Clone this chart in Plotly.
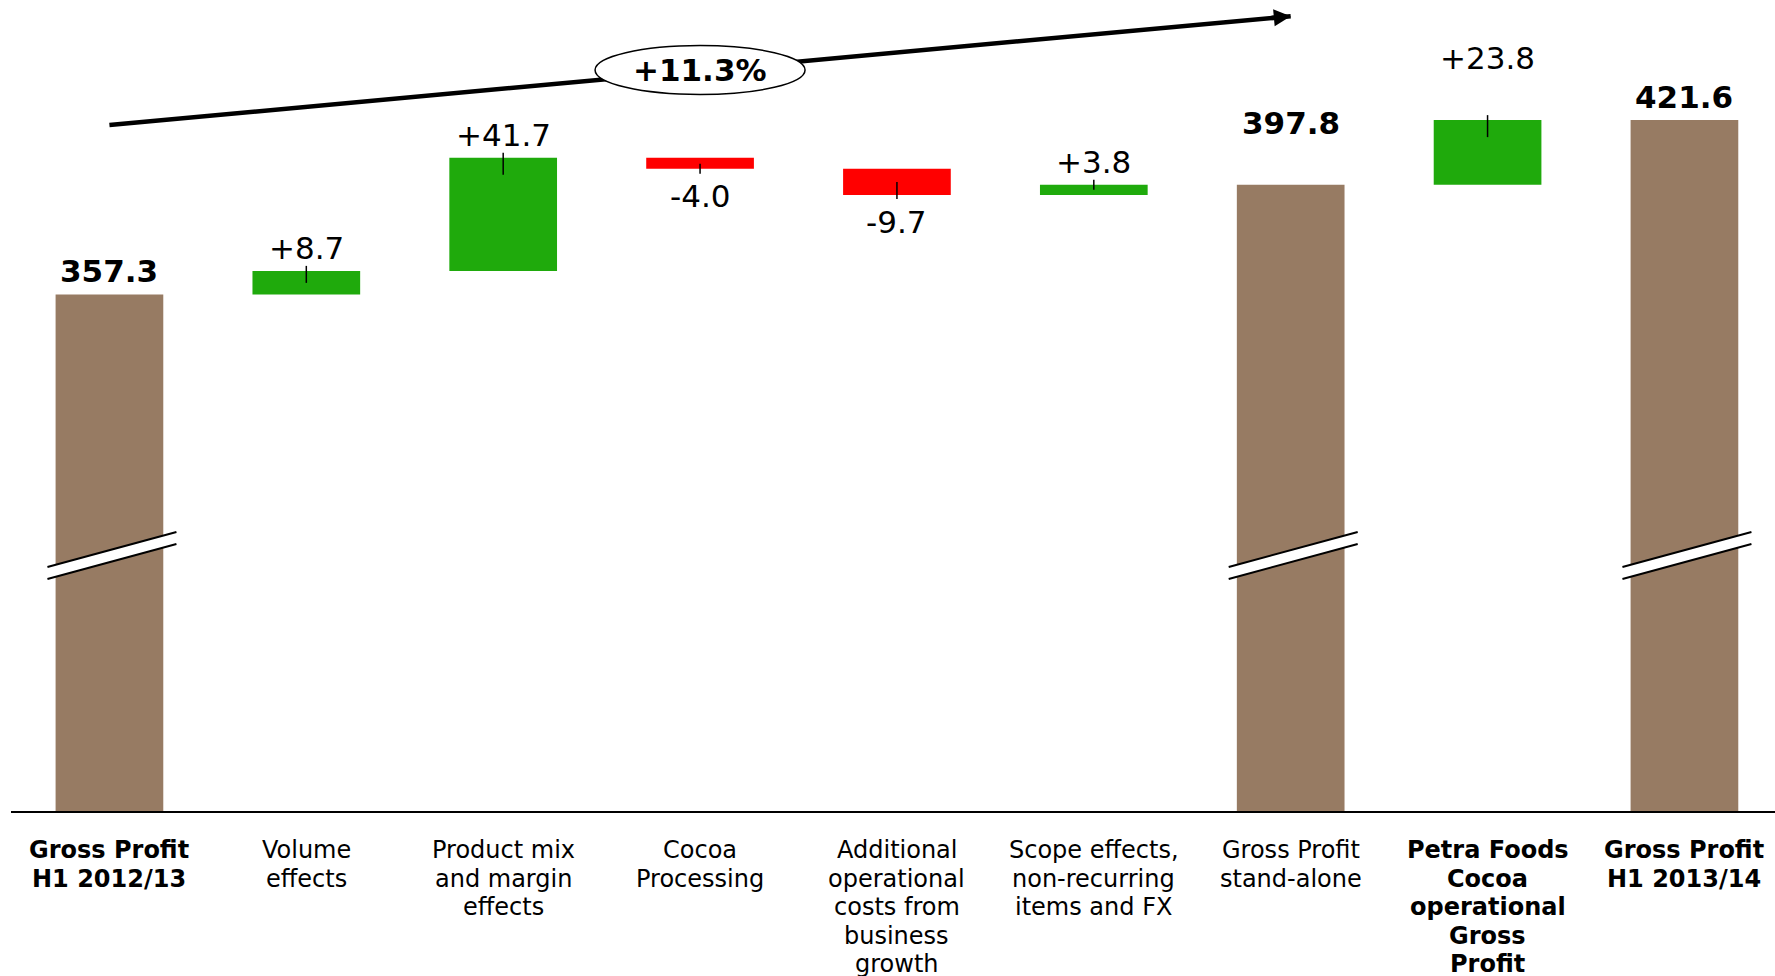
import plotly.graph_objects as go

# ---- data -------------------------------------------------------------
categories = [
    "Gross Profit<br>H1 2012/13",
    "Volume<br>effects",
    "Product mix<br>and margin<br>effects",
    "Cocoa<br>Processing",
    "Additional<br>operational<br>costs from<br>business<br>growth",
    "Scope effects,<br>non-recurring<br>items and FX",
    "Gross Profit<br>stand-alone",
    "Petra Foods<br>Cocoa<br>operational<br>Gross<br>Profit",
    "Gross Profit<br>H1 2013/14",
]
bold_categories = [True, False, False, False, False, False, False, True, True]
measures = ["absolute", "relative", "relative", "relative", "relative",
            "relative", "total", "relative", "total"]
values = [357.3, 8.7, 41.7, -4.0, -9.7, 3.8, 397.8, 23.8, 421.6]
growth_label = "+11.3%"

# ---- style ------------------------------------------------------------
FONT = "DejaVu Sans"
BROWN = "#977B63"
GREEN = "#1FAA0C"
RED = "#FF0000"
Y_RANGE = [166.8, 465.9]
X_RANGE = [-0.5, 8.46]
# extra lift (px) for a few value labels
label_lift = [0, 0, 0, 0, 0, 0, 39, 39, 0]
# small marker ticks at the end of change bars: (up px, down px)
tick_span = [None, (5, 12), (5, 17), (5, 5), (13, 4), (5, 5), None, (5, 17), None]
broken_bars = [0, 6, 8]
LINE_GAP = 28.5

# running totals -> start / end of each bar
starts, ends = [], []
running = 0.0
for m, v in zip(measures, values):
    if m == "absolute":
        s, running = 0.0, v
    elif m == "relative":
        s, running = running, running + v
    else:
        s = 0.0
    starts.append(s)
    ends.append(running)

xs = list(range(len(categories)))

fig = go.Figure(go.Waterfall(
    x=xs,
    y=values,
    measure=measures,
    width=0.547,
    increasing=dict(marker=dict(color=GREEN, line=dict(width=0))),
    decreasing=dict(marker=dict(color=RED, line=dict(width=0))),
    totals=dict(marker=dict(color=BROWN, line=dict(width=0))),
    connector=dict(visible=False),
    hoverinfo="skip",
))

shapes = []
annotations = []

# value labels
for i, (m, v, e) in enumerate(zip(measures, values, ends)):
    if m == "relative":
        txt = f"{v:+.1f}"
    else:
        txt = f"<b>{e:.1f}</b>"
    if m == "relative" and v < 0:
        annotations.append(dict(x=i, y=e, xref="x", yref="y", text=txt,
                                showarrow=False, yanchor="top", yshift=-7,
                                font=dict(family=FONT, size=31, color="black")))
    else:
        annotations.append(dict(x=i, y=e, xref="x", yref="y", text=txt,
                                showarrow=False, yanchor="bottom",
                                yshift=3 + label_lift[i],
                                font=dict(family=FONT, size=31, color="black")))

# tick marks on the change bars
for i, span in enumerate(tick_span):
    if span is None:
        continue
    up, down = span
    shapes.append(dict(type="line", xref="x", yref="y", x0=i, x1=i,
                       ysizemode="pixel", yanchor=ends[i], y0=up, y1=-down,
                       line=dict(color="black", width=1.5), layer="above"))

# axis-break marks on the totals
for i in broken_bars:
    common = dict(xref="x", yref="paper", xsizemode="pixel", xanchor=i,
                  ysizemode="pixel", yanchor=0.315, layer="above")
    shapes.append(dict(type="path", path="M-62,-11.5 L67,23.5 L67,11.5 L-62,-23.5 Z",
                       fillcolor="white", line=dict(width=0), **common))
    shapes.append(dict(type="path", path="M-62,-11.5 L67,23.5",
                       line=dict(color="black", width=2), **common))
    shapes.append(dict(type="path", path="M-62,-23.5 L67,11.5",
                       line=dict(color="black", width=2), **common))

# growth arrow with ellipse label
shapes.append(dict(type="line", xref="x", yref="paper", x0=0, y0=0.8459,
                   x1=6, y1=0.980, line=dict(color="black", width=4.5),
                   layer="above"))
shapes.append(dict(type="circle", xref="x", yref="paper", xsizemode="pixel",
                   xanchor=3, x0=-105, x1=105, ysizemode="pixel", yanchor=0.9137,
                   y0=-24.5, y1=24.5, fillcolor="white",
                   line=dict(color="black", width=1.5), layer="above"))
annotations.append(dict(x=6, y=0.980, xref="x", yref="paper", text="",
                        showarrow=True, ax=-20, ay=1.84, arrowhead=2,
                        arrowsize=0.75, arrowwidth=4.5, arrowcolor="black"))
annotations.append(dict(x=3, y=0.9137, xref="x", yref="paper",
                        text=f"<b>{growth_label}</b>", showarrow=False,
                        yanchor="middle",
                        font=dict(family=FONT, size=31, color="black")))

# category labels, one annotation per line
for i, (cat, bold) in enumerate(zip(categories, bold_categories)):
    for k, line in enumerate(cat.split("<br>")):
        txt = f"<b>{line}</b>" if bold else line
        annotations.append(dict(x=i, y=0, xref="x", yref="paper", text=txt,
                                showarrow=False, yanchor="middle",
                                yshift=-(39 + LINE_GAP * k),
                                font=dict(family=FONT, size=24, color="black")))

fig.update_layout(
    width=1775, height=976,
    margin=dict(l=11, r=0, t=0, b=165),
    paper_bgcolor="white", plot_bgcolor="white",
    showlegend=False,
    xaxis=dict(range=X_RANGE, showline=True, linecolor="black", linewidth=2,
               showticklabels=False, ticks="", showgrid=False, zeroline=False,
               fixedrange=True),
    yaxis=dict(range=Y_RANGE, visible=False, showgrid=False, zeroline=False,
               fixedrange=True),
    shapes=shapes,
    annotations=annotations,
)

fig.write_html("out.html", config={"displayModeBar": False})
